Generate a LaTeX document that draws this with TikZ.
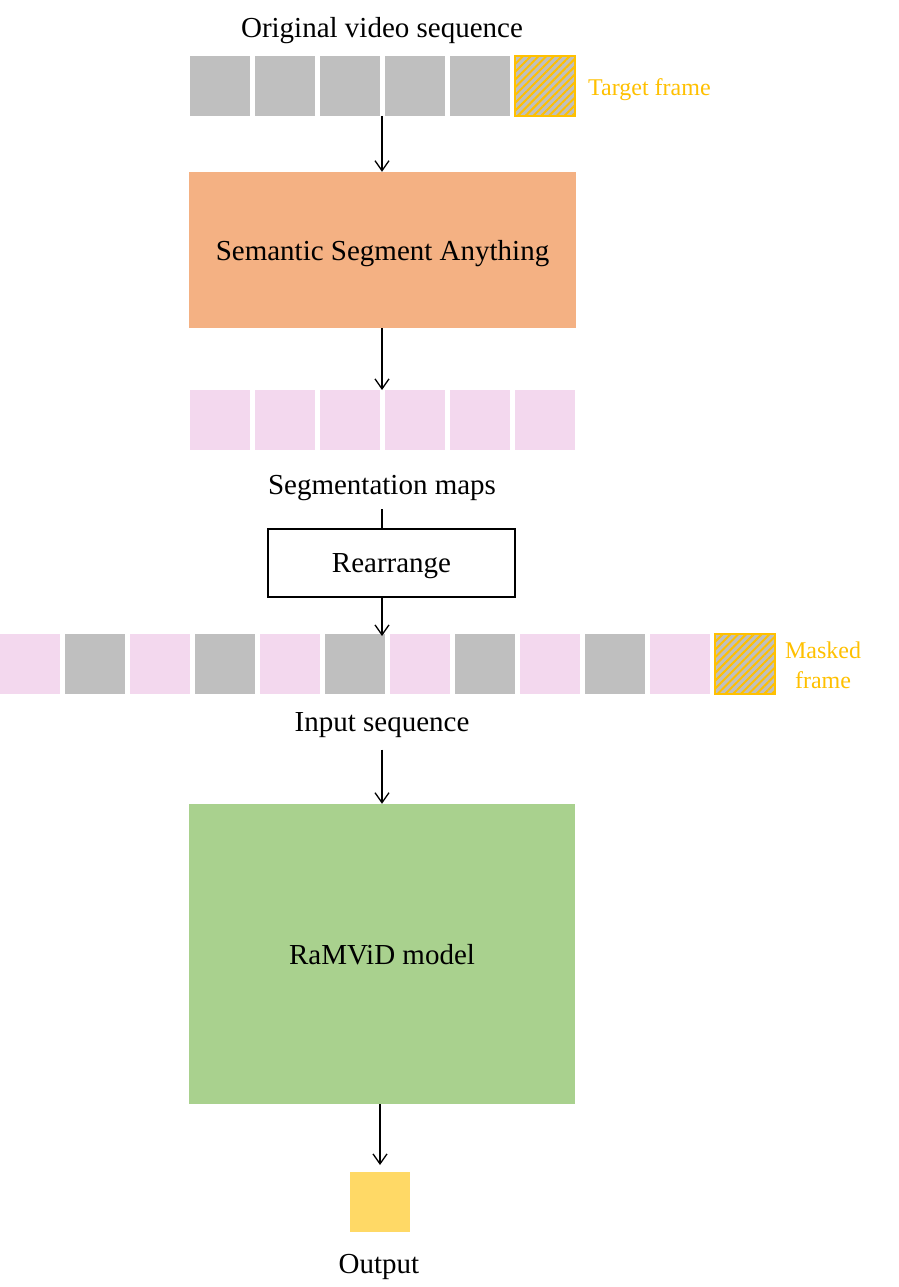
\documentclass[tikz,border=0pt]{standalone}
\usepackage{fontspec}
\setmainfont{Liberation Serif}
\usetikzlibrary{arrows.meta,patterns.meta,calc}
\definecolor{framegray}{HTML}{BFBFBF}
\definecolor{segpink}{HTML}{F3D8EE}
\definecolor{ssaorange}{HTML}{F4B183}
\definecolor{modelgreen}{HTML}{A9D18E}
\definecolor{outyellow}{HTML}{FFD966}
\definecolor{gold}{HTML}{FFC000}
\tikzset{
  frame/.style={minimum width=60pt,minimum height=60pt,inner sep=0pt,outer sep=0pt},
  grayframe/.style={frame,fill=framegray},
  pinkframe/.style={frame,fill=segpink},
  hatchframe/.style={frame,preaction={fill=framegray},
    pattern={Lines[angle=45,distance=5.5pt,line width=2pt]},pattern color=gold,
    draw=gold,line width=2pt},
  bigtext/.style={font=\fontsize{29}{33}\selectfont,inner sep=0pt,text depth=0pt},
  goldtext/.style={font=\fontsize{24}{30}\selectfont,text=gold,inner sep=0pt,align=center},
  arr/.style={-{Straight Barb[length=10pt,width=14pt]},line width=1.3pt},
  plain/.style={line width=1.3pt}
}
\begin{document}
\begin{tikzpicture}[x=1pt,y=-1pt]
\useasboundingbox (0,0) rectangle (899,1287);
\coordinate (ax) at (382,0);
% title
\node[bigtext] (title) at (382,27) {Original video sequence};
% top row
\foreach \i in {1,...,5} {
  \node[grayframe] (t\i) at ({220+65*(\i-1)},86) {};
}
\node[hatchframe] (t6) at (545,86) {};
\node[goldtext,anchor=west] (tgt) at (588,90) {Target frame};
% SSA
\node[fill=ssaorange,minimum width=387pt,minimum height=156pt,inner sep=0pt,bigtext] (ssa) at (382.5,250) {Semantic Segment Anything};
% segmentation row
\foreach \i in {1,...,6} {
  \node[pinkframe] (p\i) at ({220+65*(\i-1)},420) {};
}
\node[bigtext] (segl) at (382,485) {Segmentation maps};
% rearrange
\node[draw,line width=1.5pt,minimum width=247pt,minimum height=68pt,inner sep=0pt,bigtext] (rearr) at (391.5,563) {Rearrange};
% input sequence
\foreach \i in {1,3,5,7,9,11} {
  \node[pinkframe] (i\i) at ({30+65*(\i-1)},664) {};
}
\foreach \i in {2,4,6,8,10} {
  \node[grayframe] (i\i) at ({30+65*(\i-1)},664) {};
}
\node[hatchframe] (i12) at (745,664) {};
\node[goldtext] (mask) at (823,665) {Masked\\frame};
\node[bigtext] (inl) at (382,722) {Input sequence};
% model
\node[fill=modelgreen,minimum width=386pt,minimum height=300pt,inner sep=0pt,bigtext] (model) at (382,954) {RaMViD model};
% output
\node[frame,fill=outyellow] (out) at (380,1202) {};
\node[bigtext] (outl) at (379,1264) {Output};
% connectors
\draw[arr] (t3.south -| ax) -- (ssa.north -| ax);
\draw[arr] (ssa.south -| ax) -- (p3.north -| ax);
\draw[plain] (rearr.north -| ax) -- ++(0,-19);
\draw[arr] (rearr.south -| ax) -- ($(i6.north -| ax)+(0,2)$);
\draw[arr] ($(inl.south -| ax)+(0,18)$) -- (model.north -| ax);
\draw[arr,shorten >=7pt] (out.north |- model.south) -- (out.north);
\end{tikzpicture}
\end{document}
